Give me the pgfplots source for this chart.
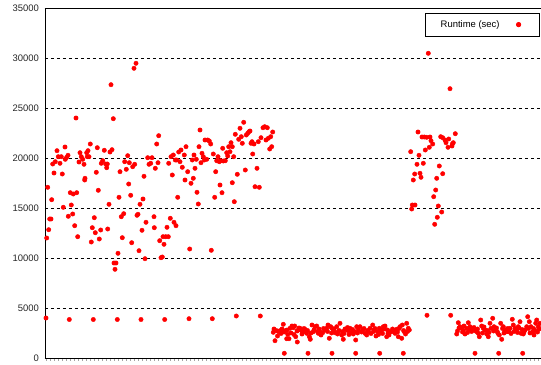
\documentclass[border=0pt]{standalone}
\usepackage{pgfplots}
\pgfplotsset{compat=1.18}
\usepackage{pgfplotstable}
\usepackage{fontspec}
\setmainfont{Liberation Sans}
\pgfplotstableread{
x y
46 4000
47.7 17070
46.7 12000
48.7 12830
49.7 13900
51 13900
51.7 15830
52.7 19400
54 18500
55.3 19630
57 20730
58.3 20130
60 19470
61.3 20130
62.3 18400
63.3 15070
65 21100
65.3 19870
66.7 20070
68 20270
68.3 14170
69.3 3850
70.3 16530
73.3 16400
71.3 15300
72.7 14400
74.7 13230
76 24000
76.7 16530
77.7 12130
79 19600
80 20530
81.3 20130
82.7 19870
84 19370
84.7 17800
85 17970
86.7 20530
87.3 20130
88 20730
89 20130
90.3 21400
91.3 11600
92.3 13030
93.3 3850
94.3 14030
95.3 12530
96.3 18570
97.3 21030
98.3 16770
99.3 11900
100.7 12800
101.3 19470
102.7 19730
104.3 20770
105.7 19400
106.7 19030
107.3 19400
107.7 12900
109 15370
110 20600
111 27330
112 20830
113.3 23930
114 9500
115 8870
116 9500
117.3 3850
118 10470
119 16070
120 18630
121.3 14130
122.3 12030
123.7 14430
124.7 19630
126.3 18870
127.7 20230
128.7 17400
129.3 19530
130.7 16270
131.7 11530
132.7 19130
134 28970
134.7 19370
136 29470
137 14270
138 14370
139 10730
140 15370
141 3850
142 12770
143 15900
144 18170
145 9930
146 13570
147.7 20030
149 19370
150.7 19470
152 20030
154 14130
154.3 13030
155.3 18970
156.7 21400
158 19530
158.7 22230
159.7 11730
161 10030
162.3 10100
163 12130
164 11370
164.7 3850
165.7 12130
167 13070
168.3 12130
168.7 19470
170.3 13970
171 20130
172.3 18300
173.3 20300
174 13570
175.3 19800
176 13230
176.7 19800
177.7 16070
178.7 20600
180 19630
181 20800
182.3 19070
184.3 20300
185 17800
186 21130
187.7 18630
189 3930
189.7 10900
191 17470
192.3 19800
193.3 17970
194 20300
195 18970
196.3 19870
197 16570
198.3 15400
199 21130
200 22800
201 19530
202 20470
203.3 20130
204.3 19800
205 21800
206.7 19870
207.7 21800
209.3 21700
210.7 21400
211.3 10770
212.3 3930
213.3 20400
214.7 16070
215.7 18630
216.7 19730
218 20130
219.3 19630
220 17300
220.7 19730
222 16530
222.7 20970
223.3 19700
225.3 19730
226.7 20530
227.7 20200
228.7 21130
230 20630
231 21530
232.3 21130
232.3 17530
233.7 20130
234.3 15630
235.3 22370
236.3 4200
237.3 18370
238.7 21870
240 22970
241.3 22130
242.3 21470
243.7 23570
245.3 18800
246.3 22300
247.7 22470
249 22630
250 22700
251 21470
252 21630
252.7 20400
254 21400
255 17130
257 18970
258.3 21630
259.3 17070
260.3 4200
261 22030
263 23030
264.7 23130
266 21800
267.3 23030
268.3 21970
269.7 20900
270.7 22130
271.7 21130
272.7 22600
273.3 2570
274 2900
275 1730
276.7 2730
277.5 2200
278.7 2630
280 2730
281 2450
282 2900
283.3 3370
284 2600
285.3 2730
286.7 1930
287 2800
287.7 2370
289 1930
290 2970
291 2500
292 3200
293.3 3030
294 2350
294.7 3200
295.7 2130
297 2700
297.3 1600
298.3 2800
299 3000
300 2970
301.7 2730
302 2400
303.3 2630
304 2950
305 2870
306.7 2470
307.5 2750
309.3 2130
310.3 1870
311 2500
312 3300
313.3 2630
314 2800
315 3130
316.7 3200
317.5 2650
318.3 2470
319 2900
320 2630
321 2300
322.7 2530
323.5 2950
325 2800
326.7 2970
327.5 2650
328 3300
329.3 1970
330.7 3130
331.5 2500
332 2970
333.3 2800
334 2900
335 2530
336.7 3130
337.5 2400
338.3 2630
339 2750
340 3470
341.7 2300
342.5 2650
343.3 1870
344 2450
345 2900
346.7 2800
347.5 3050
348.3 2730
349 2350
350 2970
351.7 2530
352.5 2850
353.3 2400
354.5 2650
355.7 1800
356.7 3130
357.5 2500
358.3 2800
360 3130
361.5 2600
362.7 2800
364 2950
365 2470
366.7 2300
367.5 2750
368.3 2630
370 2970
371 2450
372.7 3300
373.5 2650
374 2800
375 2950
376 2200
377.7 2630
378.5 2350
379.3 2970
380.5 2700
381.7 2800
382.5 2450
383.3 3130
384 2900
385 3200
386.7 2130
387.5 2800
388 2470
389 2300
390 2630
391.7 2630
392.5 2900
393.3 2800
394 2700
395 2470
396.7 2870
397.5 2600
398.3 2130
399 2950
400 3130
401.7 1970
402.3 3300
403.5 2750
404.3 2630
405.5 2400
406.7 3470
407.5 2650
408.3 2970
409.3 2800
284.3 470
308 470
332 470
355.7 470
379.7 470
403.3 470
475 470
498.7 470
522.7 470
428.3 30470
450 26930
418 22600
422 22100
424.3 22100
426.7 22070
430 22100
431 21730
432.7 21400
429.3 21070
425.3 20800
410.7 20630
419 20270
440.7 22130
442.7 22030
445 21800
446 21530
448.7 21900
448 21070
452.3 21400
453.3 21530
452 21200
455.3 22430
417 19370
423.3 19470
439.3 19200
414.7 18400
420 18470
421 18070
442.7 18430
436.7 17970
413.3 17800
435.7 16800
433.7 16130
412.3 15300
415 15300
411.7 14900
438.3 15200
441.7 14600
437.3 14070
434.7 13370
427 4270
450.7 4270
456.7 2400
457.5 2700
458.3 3530
459 3000
460 3130
461.7 2970
462.5 2600
463.3 2730
464 3200
465 2400
466.7 2970
467.5 2550
468.3 3530
469 2850
470 3130
471.5 2650
472.7 2970
474 3050
475 2730
476.7 2630
477.5 2900
478.3 2470
479.3 2130
480.7 3800
481.7 3200
482.5 2500
483.3 2970
484 3100
485 2800
486.7 2400
487.5 2750
488.3 2130
489 2550
490 3470
491 2970
492.7 3970
493.5 2700
494 3130
495.7 2800
496.5 3000
497.3 2630
498 2450
499.3 2300
500.7 3470
501.7 1870
502.5 2950
503.3 3130
504 2500
505 2800
506.7 2630
507.5 2950
508.3 2630
509 2700
510 2970
511 2450
512.3 3870
513.3 3300
514 2650
515 2970
516.7 2730
517.5 2550
518.3 3130
519 3000
520 3630
521 2470
522 2850
523.3 2400
524 2600
525 2800
526.7 3130
527.7 4130
528.5 2950
529.3 3630
530 2500
531 3130
532.7 2630
533.5 2950
534 2300
535 2750
535.7 3470
536.7 3800
537.5 2600
538.3 3130
539 2900
540 3470
}\runtime
\begin{document}
\begin{tikzpicture}
\begin{axis}[
  scale only axis,
  width=496bp, height=350bp,
  xmin=45, xmax=541, ymin=0, ymax=35000,
  axis y line*=left, axis x line*=box,
  axis line style={black, line width=0.9bp},
  ytick={0,5000,...,35000},
  ytick style={draw=none},
  xtick={46,50,...,540},
  xticklabels={},
  xtick pos=left,
  ytick pos=left,
  x tick style={gray!70, line width=0.7bp},
  tick align=outside,
  major tick length=2.5bp,
  scaled y ticks=false,
  yticklabel style={/pgf/number format/.cd, 1000 sep={}, fixed, assume math mode=true},
  ticklabel style={font=\fontsize{9.5}{11}\selectfont, text=black!85},
  ymajorgrids,
  grid style={black, dash pattern=on 3bp off 3bp, line width=0.5bp},
  legend plot pos=right,
  legend image code/.code={\path[draw=none, fill=none] (0bp,-2bp) rectangle (25bp,2bp); \draw[#1] plot coordinates {(17bp,0bp)};},
  legend style={at={(0.998,0.987)}, anchor=north east, draw=black, line width=0.8bp,
    font=\fontsize{9.5}{11}\selectfont, inner xsep=13bp, inner ysep=5.5bp},
  clip=false,
]
\addplot[only marks, mark=*, mark size=2.2bp, color=red, mark options={draw=red, fill=red}] table[x=x, y=y] {\runtime};
\addlegendentry{Runtime (sec)}
\end{axis}
\pgfresetboundingbox
\path[use as bounding box] (-45bp,-7bp) rectangle (496bp,358bp);
\end{tikzpicture}
\end{document}
